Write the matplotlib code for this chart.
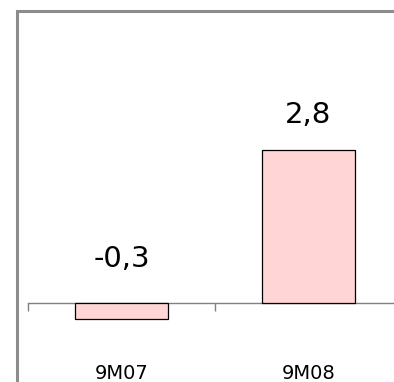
import matplotlib.pyplot as plt
from matplotlib.patches import Rectangle

# chart data
categories = ['9M07', '9M08']
values = [-0.3, 2.8]
value_labels = ['-0,3', '2,8']

W, H = 394, 382
fig = plt.figure(figsize=(W / 100, H / 100), dpi=100)
fig.patch.set_facecolor('white')

# gray frame (top and left edges visible, rest runs off the picture)
frame = Rectangle((16.5 / W, -0.2), 1.2, (H - 11) / H + 0.2,
                  transform=fig.transFigure, fill=False,
                  edgecolor='#8c8c8c', linewidth=2.2)
fig.patches.append(frame)

# axes: x from -0.5 (28 px) to 1.5 (402 px), zero line at 303 px from top
ax = fig.add_axes([28 / W, 51.6 / H, 374 / W, 219.2 / H])
ax.set_xlim(-0.5, 1.5)
ax.set_ylim(-0.5, 3.5)
ax.patch.set_alpha(0)

x = list(range(len(categories)))
ax.bar(x, values, width=0.5, color='#ffd5d5', edgecolor='black', linewidth=0.9, zorder=3)

for xi, v, lab in zip(x, values, value_labels):
    off = 19 if v >= 0 else 26
    ax.annotate(lab, (xi, max(v, 0)), xytext=(0, off), textcoords='offset points',
                ha='center', va='baseline', fontsize=21, color='black')

for s in ['top', 'right', 'left']:
    ax.spines[s].set_visible(False)
ax.spines['bottom'].set_position(('data', 0))
ax.spines['bottom'].set_color('#808080')
ax.spines['bottom'].set_linewidth(1.0)
ax.spines['bottom'].set_clip_on(False)

ax.set_yticks([])
ax.set_xticks(x)
ax.set_xticklabels(categories, fontsize=14)
ax.tick_params(axis='x', which='major', length=0, pad=44)
ax.set_xticks([-0.5, 0.5, 1.5], minor=True)
ax.tick_params(axis='x', which='minor', length=6, width=1.0, color='#808080', direction='out')

fig.savefig('out.png', dpi=100)
